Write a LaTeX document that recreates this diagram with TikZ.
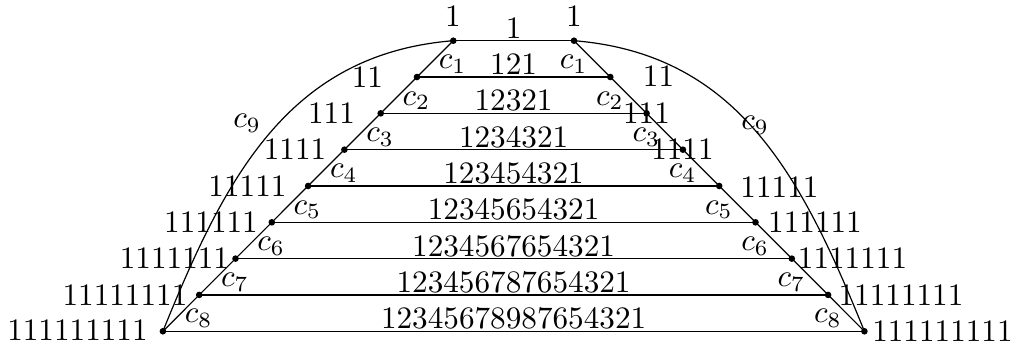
\documentclass[tikz,border=0pt]{standalone}
\begin{document}
\begin{tikzpicture}[x=0.333333pt,y=-0.333333pt,
  dot/.style={circle,fill=black,inner sep=0pt,minimum size=2.2pt},
  lbl/.style={inner sep=0pt,scale=1.04,transform shape},
  edge/.style={line width=0.4pt}]
\useasboundingbox (0,0) rectangle (1016,345);
% dots
\foreach \k in {1,...,9}{
  \pgfmathsetmacro\yy{40.7+36.32*(\k-1)}
  \pgfmathsetmacro\xl{453.3-36.3*(\k-1)}
  \pgfmathsetmacro\xr{574+36.3*(\k-1)}
  \node[dot] (L\k) at (\xl,\yy) {};
  \node[dot] (R\k) at (\xr,\yy) {};
}
% horizontal lines
\foreach \k in {1,...,9}{
  \draw[edge] (L\k.center) -- (R\k.center);
}
% side segments
\foreach \k [evaluate=\k as \j using int(\k+1)] in {1,...,8}{
  \draw[edge] (L\k.center) -- (L\j.center);
  \draw[edge] (R\k.center) -- (R\j.center);
}
% outer arcs c9
\draw[edge] (L9.center) .. controls (225,178) and (288,54) .. (L1.center);
\draw[edge] (R9.center) .. controls (802.3,178) and (739.3,54) .. (R1.center);
% middle numbers
\foreach \k/\t in {1/1,2/121,3/12321,4/1234321,5/123454321,6/12345654321,7/1234567654321,8/123456787654321,9/12345678987654321}{
  \pgfmathsetmacro\yy{40.7+36.32*(\k-1)-2.4}
  \node[lbl,anchor=base] (m\k) at (513.6,\yy) {\t};
}
% left labels
\foreach \k/\x/\y/\t in {1/453/16/1,2/367.5/77/11,3/331.5/113/111,4/295/149/1111,5/247.5/186/11111,6/211/222/111111,7/174.5/258/1111111,8/125/295/11111111,9/77.5/330.5/111111111}{
  \node[lbl] (ll\k) at (\x,\y) {\t};
}
% right labels
\foreach \k/\x/\y/\t in {1/574/16/1,2/658.5/76/11,3/646.5/113/111,4/682.5/149/1111,5/779.5/187/11111,6/815/222/111111,7/852.5/258/1111111,8/901/295/11111111,9/942.5/331/111111111}{
  \node[lbl] (rl\k) at (\x,\y) {\t};
}
% c_k labels
\foreach \k in {1,...,8}{
  \pgfmathsetmacro\my{40.7+36.32*(\k-0.5)+5.5}
  \pgfmathsetmacro\mxl{453.3-36.3*(\k-0.5)+17.5}
  \pgfmathsetmacro\mxr{574+36.3*(\k-0.5)-18.5}
  \node[lbl] (cl\k) at (\mxl,\my) {$c_{\k}$};
  \node[lbl] (cr\k) at (\mxr,\my) {$c_{\k}$};
}
\node[lbl] (cl9) at (247,123) {$c_9$};
\node[lbl] (cr9) at (755,125) {$c_9$};
\end{tikzpicture}
\end{document}
